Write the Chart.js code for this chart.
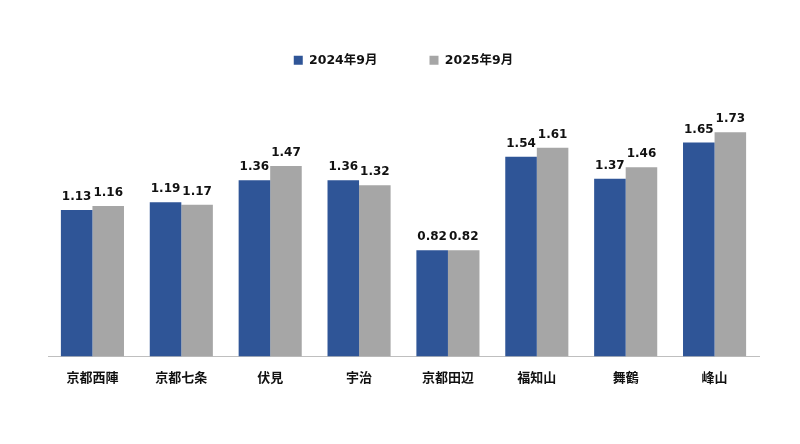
<!DOCTYPE html>
<html>
<head>
<meta charset="utf-8">
<script src="https://cdn.jsdelivr.net/npm/chart.js@4"></script>
<style>
  html, body { margin: 0; padding: 0; background: #fff; }
  #wrap { width: 800px; height: 444px; }
</style>
</head>
<body>
<div id="wrap"><canvas id="chart"></canvas></div>
<script>
const categories = ['京都西陣', '京都七条', '伏見', '宇治', '京都田辺', '福知山', '舞鶴', '峰山'];
const sep2024 = [1.13, 1.19, 1.36, 1.36, 0.82, 1.54, 1.37, 1.65];
const sep2025 = [1.16, 1.17, 1.47, 1.32, 0.82, 1.61, 1.46, 1.73];
const seriesNames = ['2024年9月', '2025年9月'];

const FONT = "'DejaVu Sans', Verdana, 'Noto Sans CJK JP', sans-serif";

// value labels above each bar
const barLabels = {
  id: 'barLabels',
  afterDatasetsDraw(chart) {
    const ctx = chart.ctx;
    ctx.save();
    ctx.font = 'bold 12px ' + FONT;
    ctx.fillStyle = '#111';
    ctx.textAlign = 'center';
    ctx.textBaseline = 'bottom';
    chart.data.datasets.forEach((ds, i) => {
      chart.getDatasetMeta(i).data.forEach((bar, j) => {
        ctx.fillText(ds.data[j].toFixed(2), bar.x, bar.y - 7);
      });
    });
    ctx.restore();
  }
};

new Chart(document.getElementById('chart'), {
  type: 'bar',
  data: {
    labels: categories,
    datasets: [{
      label: seriesNames[0],
      data: sep2024,
      backgroundColor: '#2F5597',
      categoryPercentage: 0.71,
      barPercentage: 1.0
    }, {
      label: seriesNames[1],
      data: sep2025,
      backgroundColor: '#A6A6A6',
      categoryPercentage: 0.71,
      barPercentage: 1.0
    }]
  },
  options: {
    responsive: true,
    maintainAspectRatio: false,
    animation: false,
    layout: { padding: { left: 48, right: 41, top: 2, bottom: 52 } },
    plugins: {
      legend: {
        position: 'top',
        labels: {
          boxWidth: 9,
          boxHeight: 9,
          padding: 52,
          color: '#111',
          font: { family: FONT, size: 12.5, weight: 'bold' }
        }
      },
      tooltip: { enabled: false }
    },
    scales: {
      x: {
        grid: { display: false },
        border: { color: '#bfbfbf' },
        ticks: {
          color: '#111',
          padding: 6,
          font: { family: FONT, size: 13, weight: 'bold' }
        }
      },
      y: {
        display: false,
        min: 0,
        max: 2.16
      }
    }
  },
  plugins: [barLabels]
});
</script>
</body>
</html>
